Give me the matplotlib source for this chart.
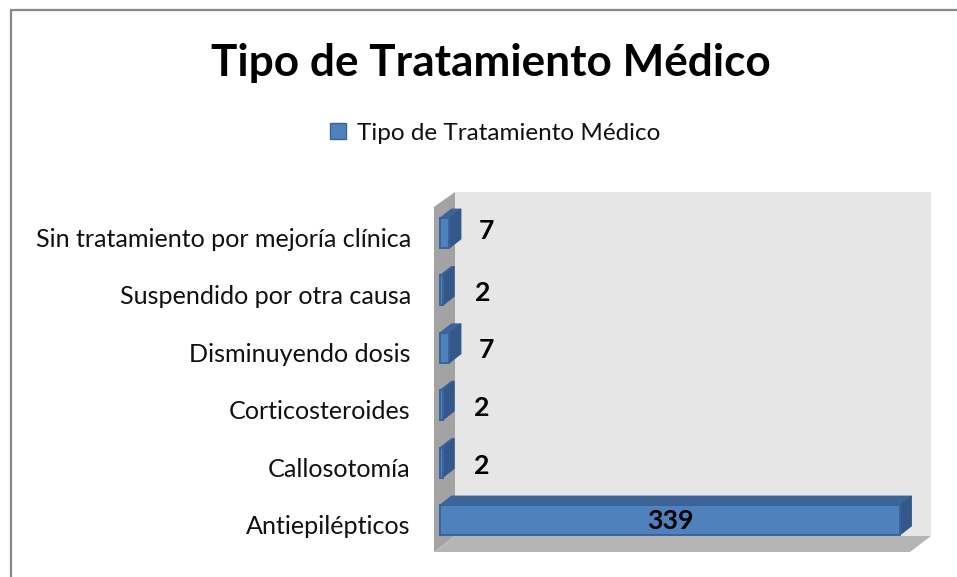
import matplotlib
matplotlib.use("Agg")
import matplotlib.pyplot as plt
from matplotlib.patches import Polygon, Patch, Rectangle
from matplotlib.transforms import ScaledTranslation

categories = ["Antiepilépticos", "Callosotomía", "Corticosteroides",
              "Disminuyendo dosis", "Suspendido por otra causa",
              "Sin tratamiento por mejoría clínica"]
values = [339, 2, 2, 7, 2, 7]
series_name = "Tipo de Tratamiento Médico"

W, H = 957, 577
plt.rcParams["font.family"] = ["Lato", "DejaVu Sans"]
fig = plt.figure(figsize=(W / 100, H / 100), dpi=100, facecolor="white")

# chart border (top and left visible)
bg = fig.add_axes([0, 0, 1, 1], zorder=0)
bg.set_xlim(0, W); bg.set_ylim(H, 0); bg.axis("off")
bg.plot([10.5, 10.5, W], [H, 9.5, 9.5], color="#878787", lw=1.6, solid_joinstyle="miter")

# 3-D room, in pixel coordinates of the background
bg.add_patch(Polygon([(434, 207), (455, 192), (455, 536), (434, 552)], fc="#a3a3a3", ec="none"))
bg.add_patch(Rectangle((455, 192), 476, 344, fc="#e6e6e6", ec="none"))
bg.add_patch(Polygon([(434, 552), (455, 536), (931, 536), (910, 552)], fc="#b5b5b5", ec="none"))

# data axes: value 0 at x=440, 339 at x=900; category spacing 57.4 px
L, R, T, B = 440, 900, 205, 549
ax = fig.add_axes([L / W, 1 - B / H, (R - L) / W, (B - T) / H], zorder=1)
ax.patch.set_alpha(0)
px_x = (R - L) / 339
px_y = 57.4
y0 = (B - 520) / px_y
ax.set_xlim(0, 339)
ax.set_ylim(-y0, (B - T) / px_y - y0)
for s in ax.spines.values():
    s.set_visible(False)
ax.set_xticks([])
ax.set_yticks(range(len(categories)))
ax.set_yticklabels(categories, fontsize=18.1, color="#111111")
ax.tick_params(axis="y", length=0, pad=21)
shift = ScaledTranslation(0, -4.5 / 100, fig.dpi_scale_trans)
for lab in ax.get_yticklabels():
    lab.set_transform(lab.get_transform() + shift)

bar_h = 30 / px_y
dx, dy = 11.5 / px_x, 9 / px_y
FRONT, EDGE, TOP, SIDE = "#4f81bd", "#38649c", "#3c6497", "#34588a"
for i, v in enumerate(values):
    lo, hi = i - bar_h / 2, i + bar_h / 2
    ax.add_patch(Polygon([(0, hi), (dx, hi + dy), (v + dx, hi + dy), (v, hi)], fc=TOP, ec=TOP, lw=0.6, clip_on=False))
    ax.add_patch(Polygon([(v, lo), (v + dx, lo + dy), (v + dx, hi + dy), (v, hi)], fc=SIDE, ec=SIDE, lw=0.6, clip_on=False))
    ax.add_patch(Rectangle((0, lo), v, bar_h, fc=FRONT, ec=EDGE, lw=1.4, clip_on=False))

# data labels
offsets = [(0, -1), (39, -3), (39, -3), (37, -2), (40, -3), (37, 2)]
for i, (v, (ox, oy)) in enumerate(zip(values, offsets)):
    x = v / 2 if i == 0 else v
    ax.annotate(str(v), (x, i), xytext=(ox * 0.72, oy * 0.72), textcoords="offset points",
                ha="center", va="center", fontsize=19.2, fontweight="bold", color="black")

fig.text(491 / W, 1 - 63 / H, series_name, ha="center", va="center",
         fontsize=31.8, fontweight="bold", color="black")
fig.legend(handles=[Patch(fc=FRONT, ec=EDGE, lw=1.0, label=series_name)],
           loc="center", bbox_to_anchor=(495 / W, 1 - 133 / H), frameon=False,
           fontsize=17.5, handlelength=0.65, handleheight=0.65, handletextpad=0.45,
           labelcolor="#111111")

fig.savefig("out.png", dpi=100)
